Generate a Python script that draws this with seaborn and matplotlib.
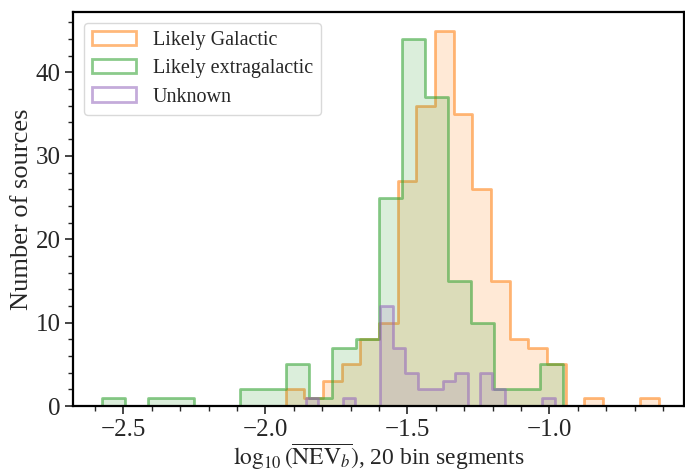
import numpy as np
import pandas as pd
import matplotlib
matplotlib.use("Agg")
import matplotlib.pyplot as plt
import seaborn as sns
from matplotlib.ticker import MultipleLocator

# Histogram data: each class has 20 bins spanning its own range
galactic_range = (-1.928, -0.614)
galactic_counts = [2, 1, 3, 5, 8, 10, 27, 36, 45, 35, 26, 15, 8, 7, 5, 0, 1, 0, 0, 1]

extragal_range = (-2.575, -0.952)
extragal_counts = [1, 0, 1, 1, 0, 0, 2, 2, 5, 1, 7, 8, 25, 44, 37, 15, 10, 2, 2, 5]

unknown_range = (-1.858, -0.981)
unknown_counts = [1, 0, 0, 1, 0, 0, 12, 7, 4, 2, 2, 3, 4, 0, 4, 2, 0, 0, 0, 1]

labels = ["Likely Galactic", "Likely extragalactic", "Unknown"]
colors = ["#ff7f0e", "#2ca02c", "#9467bd"]
n_bins = 20

sns.set_style("ticks")
plt.rcParams["font.family"] = ["Liberation Serif", "DejaVu Serif"]
plt.rcParams["mathtext.fontset"] = "stix"
plt.rcParams["axes.unicode_minus"] = True

fig = plt.figure(figsize=(6.85, 4.72), dpi=100)
ax = fig.add_axes([0.1066, 0.1398, 0.8915, 0.8348])

for rng, counts, lab, col in zip(
    [galactic_range, extragal_range, unknown_range],
    [galactic_counts, extragal_counts, unknown_counts],
    labels, colors):
    edges = np.linspace(rng[0], rng[1], n_bins + 1)
    centers = 0.5 * (edges[:-1] + edges[1:])
    df = pd.DataFrame({"x": centers, "w": np.asarray(counts, dtype=float)})
    rgb = matplotlib.colors.to_rgb(col)
    sns.histplot(data=df, x="x", weights="w", bins=list(edges), element="step",
                 fill=True, color=col, alpha=0.17, ax=ax, label=lab,
                 edgecolor=(*rgb, 0.55), linewidth=2.0)

ax.set_xlim(-2.677, -0.527)
ax.set_ylim(0, 47.25)
ax.xaxis.set_major_locator(MultipleLocator(0.5))
ax.xaxis.set_minor_locator(MultipleLocator(0.1))
ax.yaxis.set_major_locator(MultipleLocator(10))
ax.yaxis.set_minor_locator(MultipleLocator(2))
ax.tick_params(axis="both", which="major", direction="out", length=6, width=1.2,
               labelsize=18, pad=3)
ax.tick_params(axis="both", which="minor", direction="out", length=3.5, width=1.0)
for s in ax.spines.values():
    s.set_visible(True)
    s.set_linewidth(1.6)
    s.set_color("black")

ax.set_xlabel(r"$\log_{10}(\overline{\mathrm{NEV}_b})$, 20 bin segments", fontsize=17)
ax.set_ylabel("Number of sources", fontsize=19)
ax.xaxis.set_label_coords(0.5, -0.088)
ax.yaxis.set_label_coords(-0.066, 0.5)

leg = ax.legend(loc="upper left", fontsize=14.5, handlelength=2.2, frameon=True,
                borderaxespad=0.55, labelspacing=0.45)
leg.get_frame().set_edgecolor("#d0d0d0")
leg.get_frame().set_linewidth(1.0)
for h, col in zip(leg.legend_handles, colors):
    h.set_facecolor("none")
    h.set_edgecolor((*matplotlib.colors.to_rgb(col), 0.55))
    h.set_linewidth(2.0)

fig.savefig("out.png", dpi=100)
